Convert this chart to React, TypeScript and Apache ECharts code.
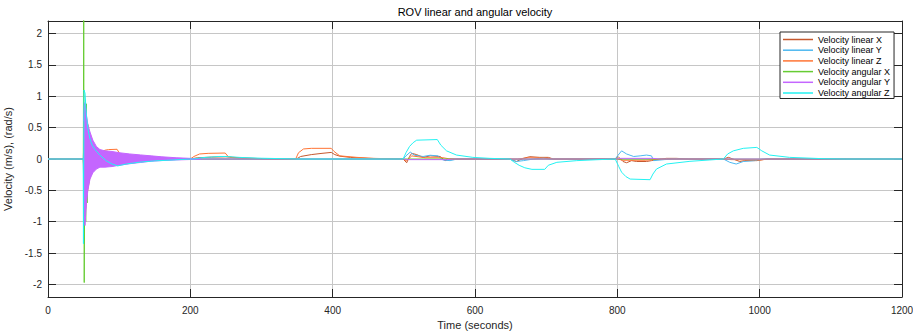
import React, { useEffect, useRef } from 'react';
import * as echarts from 'echarts';

const chartTitle = 'ROV linear and angular velocity';
const xAxisName = 'Time (seconds)';
const yAxisName = 'Velocity (m/s), (rad/s)';
const yTickValues = [-2, -1.5, -1, -0.5, 0, 0.5, 1, 1.5, 2];
const seriesNames = [
  'Velocity linear X',
  'Velocity linear Y',
  'Velocity linear Z',
  'Velocity angular X',
  'Velocity angular Y',
  'Velocity angular Z',
];

// [time, value]
const linearX = [
  [0, 0], [49.5, 0], [51, -0.3], [53, 0.2], [56, -0.1], [60, 0.05], [70, 0.02], [100, 0.01], [200, 0],
  [210, 0.02], [230, 0.03], [250, 0.035], [255, 0.03], [270, 0.02], [300, 0.005], [349, 0],
  [355, 0.04], [370, 0.07], [385, 0.09], [398, 0.105], [403, 0.07], [410, 0.045], [425, 0.025], [450, 0.01], [499, 0],
  [504, -0.06], [508, 0.04], [511, 0.09], [518, 0.07], [527, 0.026], [537, 0.05], [551, 0.04], [558, -0.026], [565, 0],
  [649, 0], [658, -0.04], [668, 0.01], [677, 0.037], [691, 0.026], [703, 0.026], [710, 0],
  [797, 0], [801, 0.04], [808, -0.04], [813, -0.06], [820, -0.026], [827, -0.04], [841, -0.04], [848, -0.026], [855, -0.01], [869, 0.01], [883, 0.01], [900, 0],
  [949, 0], [956, 0.026], [965, -0.01], [972, -0.04], [979, -0.026], [996, -0.026], [1010, 0], [1200, 0],
];

const linearY = [
  [0, 0], [49.5, 0], [51, 0.4], [53, -0.3], [56, 0.15], [60, -0.05], [70, 0.02], [100, 0],
  [499, 0], [503, 0.05], [509, 0.11], [515, 0.06], [527, 0.04], [537, 0.06], [548, 0.05], [555, -0.016], [565, -0.026], [575, 0],
  [649, 0], [658, -0.04], [668, -0.026], [682, 0], [696, 0.016], [705, 0],
  [797, 0], [801, 0.06], [806, 0.13], [813, 0.08], [823, 0.04], [832, 0.05], [841, 0.063], [848, 0.05], [851, -0.026], [866, -0.01], [880, 0],
  [949, 0], [958, -0.053], [967, -0.08], [977, -0.04], [993, -0.026], [1005, 0], [1200, 0],
];

const linearZ = [
  [0, 0], [49.5, 0], [50.5, -0.6], [52, -0.9], [55, -0.55], [57, -0.42], [61, -0.16], [65, -0.03], [70, 0.05], [75, 0.11], [80, 0.14], [85, 0.15], [97, 0.155], [101, 0.08], [110, 0.04], [130, 0.02], [160, 0.01], [200, 0],
  [205, 0.04], [213, 0.08], [225, 0.09], [249, 0.095], [253, 0.04], [260, 0.02], [280, 0.008], [320, 0],
  [348, 0], [352, 0.1], [359, 0.16], [370, 0.17], [398, 0.17], [402, 0.12], [410, 0.05], [434, 0.026], [457, 0.01], [499, 0],
  [504, -0.03], [511, 0.05], [530, 0.02], [555, 0.02], [565, 0],
  [660, 0], [675, 0.02], [700, 0.015], [710, 0],
  [800, 0], [808, -0.02], [840, -0.02], [860, 0],
  [950, 0], [960, -0.01], [1000, -0.015], [1015, 0], [1200, 0],
];

const angularX = [
  [0, 0], [49.6, 0], [50.2, 2.4], [50.9, -1.97], [52, 0.6], [53, -1.0], [54, 0.88], [55, -0.7], [56, 0.55],
  [57, -0.38], [58, 0.3], [59.5, -0.2], [61, 0.15], [63, -0.1], [66, 0.07], [70, -0.04], [75, 0.02], [80, 0], [1200, 0],
];

const angularY = [
  [0, 0], [200, 0], [500, 0], [505, -0.01], [560, -0.01], [570, 0], [800, 0], [805, 0.01], [850, 0.01], [860, 0], [1200, 0],
];

// envelope of the fast oscillation of angular Y after the start
const angularYBandTime = [50, 51, 52, 54, 56, 59, 63, 68, 73, 80, 90, 100, 115, 130, 145, 160, 180, 200, 215];
const angularYBandUpper = [0.6, 0.85, 0.9, 0.7, 0.55, 0.43, 0.3, 0.2, 0.15, 0.13, 0.12, 0.1, 0.08, 0.065, 0.05, 0.035, 0.02, 0.01, 0];
const angularYBandLower = [-0.5, -0.9, -1.06, -0.7, -0.5, -0.32, -0.22, -0.16, -0.13, -0.13, -0.12, -0.1, -0.075, -0.055, -0.035, -0.025, -0.015, -0.008, 0];

const angularZ = [
  [0, 0], [49.5, 0], [49.8, -1.35], [50.6, 1.1], [52, 1.05], [54, 0.69], [56, 0.48], [59, 0.32], [62, 0.22], [66, 0.15],
  [73, 0.06], [82, -0.03], [90, -0.08], [98, -0.11], [110, -0.08], [129, -0.05], [150, -0.03], [176, -0.015], [200, 0],
  [205, 0], [215, 0.02], [240, 0.04], [250, 0.04], [270, 0.025], [300, 0.012], [340, 0.003], [350, 0],
  [499, 0], [503, 0.1], [508, 0.2], [513, 0.26], [518, 0.3], [547, 0.31], [552, 0.22], [560, 0.13], [574, 0.063], [597, 0.026], [621, 0.01],
  [649, 0], [655, -0.05], [662, -0.1], [670, -0.14], [680, -0.165], [698, -0.165], [703, -0.1], [715, -0.053], [743, -0.026], [770, -0.012],
  [797, 0], [802, -0.12], [806, -0.21], [812, -0.28], [818, -0.32], [846, -0.33], [850, -0.24], [855, -0.16], [869, -0.08], [902, -0.037], [930, -0.015],
  [949, 0], [955, 0.08], [963, 0.13], [977, 0.17], [996, 0.185], [1003, 0.13], [1014, 0.063], [1042, 0.026], [1089, 0.005], [1120, 0], [1200, 0],
];

const colors = ['#C5582E', '#4DB8F0', '#FF7434', '#66CC33', '#C466FF', '#22F2F2'];

export default function App() {
  const ref = useRef<HTMLDivElement>(null);
  useEffect(() => {
    const chart = echarts.init(ref.current as HTMLDivElement, null, { renderer: 'svg' });
    const font = 'Arial, "Liberation Sans", Helvetica, sans-serif';
    const ink = '#262626';
    const gridColor = '#c6c6c6';
    const mk = (name: string, data: number[][], color: string, z: number): any => ({
      type: 'line',
      name,
      data,
      showSymbol: false,
      symbol: 'none',
      color,
      lineStyle: { width: 1, color },
      itemStyle: { color },
      clip: true,
      silent: true,
      z,
    });
    const upper = angularYBandTime.map((t, i) => [t, angularYBandUpper[i]]);
    const lower = angularYBandTime.map((t, i) => [t, angularYBandLower[i]]);
    const bandSeries = (name: string, data: number[][]): any => ({
      ...mk(name, data, colors[4], 6),
      areaStyle: { color: colors[4], opacity: 1, origin: 'auto' },
    });

    const axisCommon = {
      axisLine: { show: true, onZero: false, lineStyle: { color: ink, width: 1 } },
      axisTick: { show: true, inside: true, length: 8, lineStyle: { color: ink } },
    };

    chart.setOption({
      animation: false,
      backgroundColor: '#ffffff',
      title: {
        text: chartTitle,
        left: 475,
        top: 6,
        padding: 0,
        textAlign: 'center',
        textStyle: { fontSize: 11, fontWeight: 'normal', color: '#000', fontFamily: font },
      },
      grid: { left: 48, right: 11, top: 21, bottom: 38, containLabel: false, outerBoundsMode: 'none' },
      legend: {
        data: seriesNames,
        orient: 'vertical',
        left: 780,
        top: 32,
        z: 20,
        itemWidth: 30,
        itemHeight: 10,
        itemGap: 1.7,
        padding: [3, 4, 1, 3],
        backgroundColor: '#ffffff',
        borderColor: ink,
        borderWidth: 1,
        borderRadius: 0,
        icon: 'path://M0,0 L30,0 L30,1.5 L0,1.5 Z',
        textStyle: { fontSize: 9, color: '#000', fontFamily: font },
        selectedMode: false,
      },
      xAxis: [
        {
          type: 'value',
          min: 0,
          max: 1200,
          interval: 200,
          position: 'bottom',
          name: xAxisName,
          nameLocation: 'middle',
          nameGap: 21,
          nameTextStyle: { fontSize: 11, color: ink, fontFamily: font },
          ...axisCommon,
          axisLabel: { fontSize: 10, color: ink, margin: 8, fontFamily: font, formatter: (v: number) => String(v) },
          splitLine: { show: true, lineStyle: { color: gridColor, width: 1 } },
        },
        {
          type: 'value',
          min: 0,
          max: 1200,
          interval: 200,
          position: 'top',
          ...axisCommon,
          axisLabel: { show: false },
          splitLine: { show: false },
        },
      ],
      yAxis: [
        {
          type: 'value',
          min: -2.2,
          max: 2.2,
          position: 'left',
          name: yAxisName,
          nameLocation: 'middle',
          nameGap: 26,
          nameTextStyle: { fontSize: 11, color: ink, fontFamily: font },
          axisLine: axisCommon.axisLine,
          axisTick: { ...axisCommon.axisTick, customValues: yTickValues },
          axisLabel: { fontSize: 10, color: ink, margin: 6, fontFamily: font, customValues: yTickValues, formatter: (v: number) => String(v) },
          splitLine: { show: true, lineStyle: { color: gridColor, width: 1 } },
        },
        {
          type: 'value',
          min: -2.2,
          max: 2.2,
          position: 'right',
          axisLine: axisCommon.axisLine,
          axisTick: { ...axisCommon.axisTick, customValues: yTickValues },
          axisLabel: { show: false, customValues: yTickValues },
          splitLine: { show: false },
        },
      ],
      series: [
        mk(seriesNames[0], linearX, colors[0], 2),
        mk(seriesNames[1], linearY, colors[1], 3),
        mk(seriesNames[2], linearZ, colors[2], 4),
        mk(seriesNames[3], angularX, colors[3], 5),
        bandSeries('angularYUpper', upper),
        bandSeries('angularYLower', lower),
        mk(seriesNames[4], angularY, colors[4], 6),
        mk(seriesNames[5], angularZ, colors[5], 7),
      ],
    });
    return () => chart.dispose();
  }, []);
  return <div ref={ref} style={{ position: 'absolute', left: 0, top: 0, width: 913, height: 335 }} />;
}
